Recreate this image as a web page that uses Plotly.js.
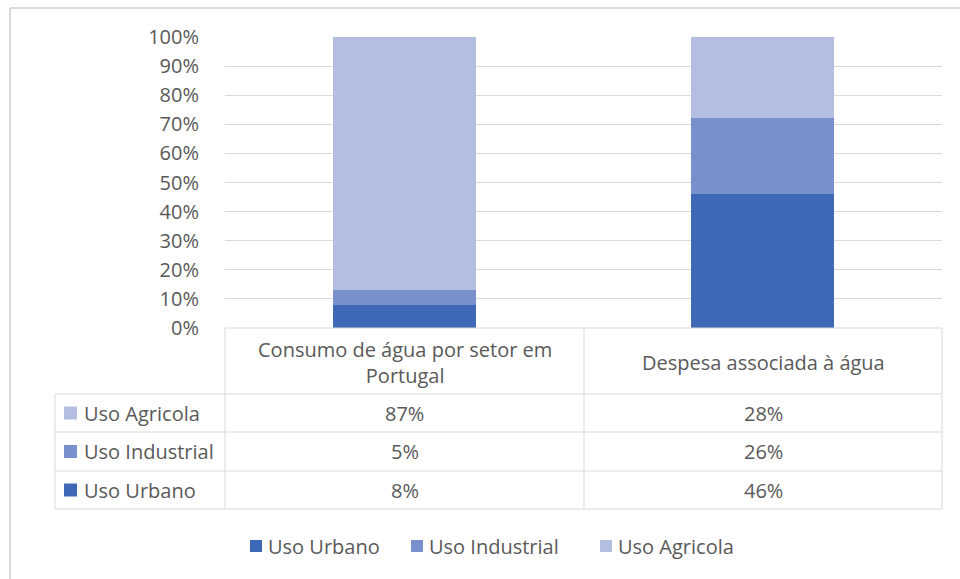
<!DOCTYPE html>
<html>
<head>
<meta charset="utf-8">
<script src="https://cdn.plot.ly/plotly-3.0.1.min.js"></script>
<style>html,body{margin:0;padding:0;background:#fff;}#chart{width:960px;height:579px;}</style>
</head>
<body>
<div id="chart"></div>
<script>
const categories = ["Consumo de água por setor em<br>Portugal", "Despesa associada à água"];
const seriesNames = ["Uso Urbano", "Uso Industrial", "Uso Agricola"];
const usoUrbano = [8, 46];
const usoIndustrial = [5, 26];
const usoAgricola = [87, 28];
const seriesColors = ["#3f69b6", "#7891cd", "#b3bee0"];
const tickVals = [0, 10, 20, 30, 40, 50, 60, 70, 80, 90, 100];
const tickText = ["0%", "10%", "20%", "30%", "40%", "50%", "60%", "70%", "80%", "90%", "100%"];

const W = 960, H = 579;
const L = 225, R = 942, T = 37, B = 328;
const px = x => (x - L) / (R - L);
const py = y => (B - y) / (B - T);
const FONT = "'Open Sans', Lato, sans-serif";
const FS = 20;
const TXT = "#595959";
const GRID = "#d9d9d9";

const seriesValues = [usoUrbano, usoIndustrial, usoAgricola];
const xIdx = [0, 1];
const traces = seriesNames.map((n, i) => ({
  type: "bar", name: n, x: xIdx, y: seriesValues[i],
  marker: {color: seriesColors[i], line: {width: 0}},
  width: 0.4, hoverinfo: "skip", showlegend: false
}));

const shapes = [];
const annotations = [];
const line = (x0, y0, x1, y1, c, w) => shapes.push({type: "line", xref: "paper", yref: "paper",
  x0: px(x0), x1: px(x1), y0: py(y0), y1: py(y1), line: {color: c || GRID, width: w || 1}});
const text = (x, y, t, xa) => annotations.push({xref: "paper", yref: "paper", x: px(x), y: py(y), text: t,
  showarrow: false, font: {family: FONT, size: FS, color: TXT}, xanchor: xa || "center", yanchor: "middle", align: "center"});
const square = (x, yc, s, c) => shapes.push({type: "rect", xref: "paper", yref: "paper",
  x0: px(x), x1: px(x + s), y0: py(yc - s / 2), y1: py(yc + s / 2), fillcolor: c, line: {width: 0}});

// outer frame
line(10, 8, 975, 8, "#d9d9d9", 2);
line(10, 8, 10, 590, "#d9d9d9", 2);

// table grid
const colX = [225, 584, 942];
const rowY = [394, 432, 471, 509];
line(225, 328, 942, 328);
rowY.forEach(y => line(55, y, 942, y));
colX.forEach(x => line(x, 328, x, 509));
line(55, 394, 55, 509);

// header text
const colCenters = [404.5, 763];
categories.forEach((c, i) => text(colCenters[i], 362, c));

// rows: top to bottom Agricola, Industrial, Urbano
const rowOrder = [2, 1, 0];
rowOrder.forEach((si, r) => {
  const yc = (rowY[r] + rowY[r + 1]) / 2;
  square(64, yc, 13, seriesColors[si]);
  text(82, yc, seriesNames[si], "left");
  seriesValues[si].forEach((v, ci) => text(colCenters[ci], yc, v + "%"));
});

// bottom legend
const legendX = [250, 411, 600];
seriesNames.forEach((n, i) => {
  square(legendX[i], 546, 12, seriesColors[i]);
  text(legendX[i] + 16, 546, n, "left");
});

const layout = {
  width: W, height: H,
  margin: {l: L, r: W - R, t: T, b: H - B, pad: 0},
  paper_bgcolor: "#ffffff", plot_bgcolor: "#ffffff",
  barmode: "stack", bargap: 0.6,
  font: {family: FONT, color: TXT, size: FS},
  xaxis: {range: [-0.5, 1.5], showticklabels: false, showgrid: false, zeroline: false, showline: false, fixedrange: true},
  yaxis: {range: [0, 100], tickvals: tickVals, ticktext: tickText, showgrid: true, gridcolor: GRID, gridwidth: 1,
    zeroline: false, showline: false, ticks: "outside", ticklen: 21, tickcolor: "rgba(0,0,0,0)",
    tickfont: {family: FONT, size: FS, color: TXT}},
  showlegend: false,
  shapes: shapes, annotations: annotations
};
Plotly.newPlot("chart", traces, layout, {staticPlot: true, displayModeBar: false});
</script>
</body>
</html>
